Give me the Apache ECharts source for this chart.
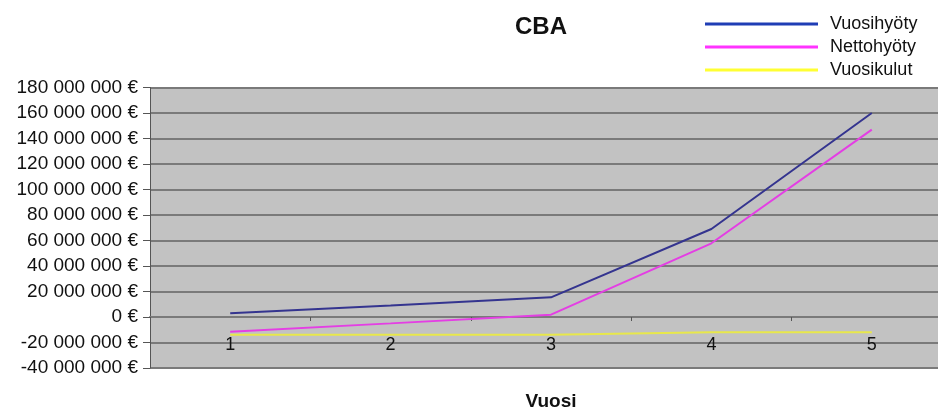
<!DOCTYPE html>
<html>
<head>
<meta charset="utf-8">
<script src="https://cdn.jsdelivr.net/npm/echarts@6/dist/echarts.min.js"></script>
<style>
  html, body { margin: 0; padding: 0; background: #fff; }
  #chart { width: 938px; height: 410px; }
</style>
</head>
<body>
<div id="chart"></div>
<script>
// values (euros)
const years = ["1", "2", "3", "4", "5"];
const vuosihyoty = [3000000, 9000000, 15400000, 69000000, 160000000];
const nettohyoty = [-11500000, -5000000, 1800000, 57800000, 147000000];
const vuosikulut = [-14000000, -14000000, -14000000, -12000000, -12000000];

const FONT = "Liberation Sans, Arial, sans-serif";

const fmtEuro = (v) => {
  const s = Math.abs(v).toString().replace(/\B(?=(\d{3})+(?!\d))/g, " ");
  return (v < 0 ? "-" : "") + s + " €";
};

const chart = echarts.init(document.getElementById("chart"), null, { renderer: "canvas" });

chart.setOption({
  backgroundColor: "#fff",
  animation: false,
  textStyle: { fontFamily: FONT },
  title: {
    text: "CBA",
    left: 510,
    top: 10,
    textStyle: { fontFamily: FONT, fontSize: 24, fontWeight: "bold", color: "#111" },
  },
  legend: {
    orient: "vertical",
    left: 700,
    top: 10,
    itemWidth: 113,
    itemHeight: 3,
    itemGap: 5,
    icon: "rect",
    textStyle: { fontFamily: FONT, fontSize: 18, color: "#111", padding: [0, 0, 0, 7] },
    data: ["Vuosihyöty", "Nettohyöty", "Vuosikulut"],
  },
  grid: {
    left: 150,
    top: 87.5,
    right: -14,
    bottom: 42,
    outerBoundsMode: "none",
    containLabel: false,
    show: true,
    backgroundColor: "#c2c2c2",
    borderWidth: 0,
  },
  xAxis: {
    type: "category",
    data: years,
    boundaryGap: true,
    name: "Vuosi",
    nameLocation: "middle",
    nameGap: 24,
    nameMoveOverlap: false,
    nameTextStyle: { fontFamily: FONT, fontSize: 19, fontWeight: "bold", color: "#111" },
    axisLine: { onZero: true, lineStyle: { color: "#7a7a7a", width: 2 } },
    axisTick: { show: true, length: 4, lineStyle: { color: "#555", width: 1 } },
    axisLabel: { fontFamily: FONT, fontSize: 18, color: "#111", margin: -32 },
    splitLine: { show: false },
  },
  yAxis: {
    type: "value",
    min: -40000000,
    max: 180000000,
    interval: 20000000,
    axisLine: { show: true, lineStyle: { color: "#555", width: 1 } },
    axisTick: { show: true, length: 7, lineStyle: { color: "#555" } },
    axisLabel: { fontFamily: FONT, fontSize: 19, color: "#111", margin: 12, formatter: fmtEuro },
    splitLine: { lineStyle: { color: "#7a7a7a", width: 2 } },
  },
  series: [
    {
      name: "Vuosihyöty",
      type: "line",
      data: vuosihyoty,
      symbol: "none",
      lineStyle: { color: "#34348f", width: 2 },
      itemStyle: { color: "#1f3db5" },
    },
    {
      name: "Nettohyöty",
      type: "line",
      data: nettohyoty,
      symbol: "none",
      lineStyle: { color: "#e43ee4", width: 2 },
      itemStyle: { color: "#ff33ff" },
    },
    {
      name: "Vuosikulut",
      type: "line",
      data: vuosikulut,
      symbol: "none",
      lineStyle: { color: "#e8e84a", width: 2 },
      itemStyle: { color: "#ffff33" },
    },
  ],
});
</script>
</body>
</html>
